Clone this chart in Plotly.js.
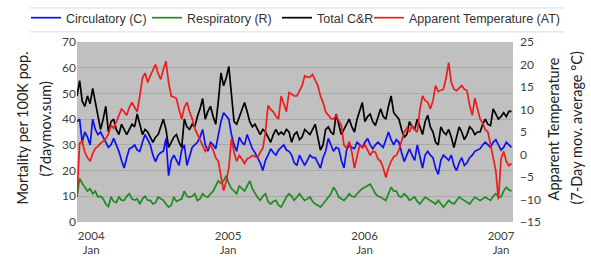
<!DOCTYPE html>
<html>
<head>
<meta charset="utf-8">
<script src="https://cdn.plot.ly/plotly-3.0.1.min.js"></script>
<style>html,body{margin:0;padding:0;background:#fff}#chart{width:591px;height:260px}</style>
</head>
<body>
<div id="chart"></div>
<script>
// Weekly samples starting 2003-11-24 (7-day step)
const startDate = '2003-11-24';
const stepDays = 7;

const circulatory = [39,40,31,35,33,30,40,36,34,35,33,31,29,30,32.5,30,27.5,24,21,25,
28.5,29,30,28,27.5,31,34,32,30,26,23.5,26,27,27.5,32.5,18,24,26,24,22,
28,30,22,26,29,30,31,33,36,30,27.5,31,30,28.5,34,39,42.5,41,40,34,
30,27.5,33,31,30,34,31,28.5,27,25,23,20,24,26,28.5,27,26,28,29,30,
28,27.5,26,23,22,26,24,22,24,26,25,25,23,21,25,27.5,32.5,30,27.5,29,
28.5,24,21,28,30,29,28.5,31,30,29,31,32.5,30,28.5,30,31,30,29,32,35,
32,30,32,31,27,23.5,26,28.5,26,24,30,26,21,26,27.5,26,25,21,18.5,24,
26,25,24,26,22,20,23,25,22,23,25,26,27.5,28,28.5,30,31,30,29,31,
32,30,28,29,31,30,29];

const respiratory = [10,17,15,13.5,12,13,11,12,9.7,10,9,7,6,9.7,8,7.5,9.7,8.5,8.4,10,
11,9,8.5,9,7,9,10,8.5,8.4,7,7.5,9.7,9,8.4,7,5.8,6.5,9.7,8,8.5,
9,12,10,9.7,10,11,8.4,9,11,10,9.7,11,12,14,16,15,16,18,15,13,
12,11,14,13,12,14,16,13,11,9.5,8.4,10,11,8,7,8,8.4,6.5,5.8,8,
9.7,11,10,8.4,9.5,11,9.5,8.4,9,9.7,8,7,6.5,5.8,7,8.4,9.5,11,13.5,12,
9.7,9,8.4,9.5,11,10,9.7,11,12,13,13.5,14,14.7,13,11,10,9.7,9,8.4,11,
13.5,12,12,10,9.7,11,10,8.4,9,9.7,8,7,8.4,9.7,9,8.4,7.5,7,8.4,7,
5.8,7,8.4,7.5,7,8.4,9.7,9,8.4,7.5,7,8.4,9.7,9,8.4,9,9.7,9,8.4,10,
11,10,9.7,12,13.5,12.5,12];

const totalCR = [49,55,47,45,49,46,52,47,42,36,40,45,35,39,40,36,34,38,36,34,
36,38,37,42,38,34,36,35,33,31,33,34,37,40,36,29,31,33,34,31,
29,40,37,36,38,37,41,44,48,40,43,45,41,38,47,58,53,56,60.5,50,
39,38,41,44,46.5,43,39,37,38,36,34,36,35,33,31,34,36,34,35,34,
36,35,31,34,35,32,33,36,35,34,36,38,33,28,30,36,37,35,34,42,
38,34,36,38,40,37,35,40,43,46.5,39,41,42,39,37.5,41,44,41,40,45,
49,42.5,41,40,36,33,34,39,37,36,40,37,34,39,41.5,37,35,31,30,37,
35,34,36,33,29,33,37,35,32,34,37,36,34,35,35,38,40,38,37.5,44,
42,40,41,42.5,41,43,43];

const apparentTemp = [-9.5,2.5,2.9,0.5,-0.7,-1.5,0.2,1.4,1.8,2.5,2.9,3.5,4.5,6.5,5.8,7.3,8.5,10.1,9.5,8.7,
10.5,11.6,10.5,9.5,13,17,18.1,16,17.5,18.9,20,18,16.7,18.9,20.7,16,13,12.8,12.4,10,
7.9,10.5,11.6,9.5,8,5.8,4.5,3.5,2,0.7,1.5,2.1,1,-0.7,-1.5,-5.1,-8,-6,-3,3.5,
0.5,-1.5,-0.2,-1,-2,-1,-0.7,-0.2,-0.5,-0.7,0.5,1.4,5,10.9,10,9.5,8.5,7.9,13,11,
9.5,13.8,13.4,13,13,14,15.3,17.5,17.2,17.2,17.8,16.5,15.3,13,11.6,9.5,8.7,8,7.9,8.7,
7.5,6.5,2.1,1.4,2.9,0.5,-3,-0.5,2.1,1.5,2.1,1,-0.2,0.7,0.5,-1,-1.5,-3,-5.1,-3,
-1.5,-0.5,-0.2,1,3,5,5.8,5,6.5,5.5,5,10,13,12,11.6,10.1,12,15.3,14,14.2,
14.5,17,20.4,16,14.5,14.2,14.8,15.3,14.5,14.2,11,8.7,12.5,10,7.9,7,5.5,5,2.1,-0.5,
-3.6,-10,-1,0.7,-1.5,-2.5,-2];

const seriesNames = ['Circulatory (C)','Respiratory (R)','Total C&R','Apparent Temperature (AT)'];
const tickDates = ['2004-01-01','2005-01-01','2006-01-01','2007-01-01'];
const tickLabels = ['2004<br>Jan','2005<br>Jan','2006<br>Jan','2007<br>Jan'];
const leftTicks = [0,10,20,30,40,50,60,70];
const rightTicks = [-15,-10,-5,0,5,10,15,20,25];

function makeDates(n){
  const out=[]; const d0=new Date(startDate+'T00:00:00Z');
  for(let i=0;i<n;i++){const d=new Date(d0.getTime()+i*stepDays*86400000);out.push(d.toISOString().slice(0,10));}
  return out;
}
const dates = makeDates(circulatory.length);

const traces = [
  {x:dates,y:circulatory,name:seriesNames[0],type:'scatter',mode:'lines',legend:'legend',line:{color:'#1010ee',width:1.7}},
  {x:dates,y:respiratory,name:seriesNames[1],type:'scatter',mode:'lines',legend:'legend2',line:{color:'#1f8a1f',width:1.7}},
  {x:dates,y:totalCR,name:seriesNames[2],type:'scatter',mode:'lines',legend:'legend3',line:{color:'#000000',width:1.7}},
  {x:dates,y:apparentTemp,name:seriesNames[3],type:'scatter',mode:'lines',yaxis:'y2',legend:'legend4',line:{color:'#ee1c1c',width:1.7}}
];

const tickFont = {family:'Lato, "Open Sans", sans-serif',size:12,color:'#404040'};
const xTickFont = {family:'Lato, "Open Sans", sans-serif',size:11.5,color:'#404040'};
const titleFont = {family:'Lato, "Open Sans", sans-serif',size:14.5,color:'#222'};
const legFont = {family:'"Liberation Sans", Arial, sans-serif',size:12.5,color:'#333'};
function leg(xp){return {orientation:'h',x:(xp-77)/436,xanchor:'left',y:1.133,yanchor:'middle',
  font:legFont,bgcolor:'rgba(0,0,0,0)',itemwidth:30};}

const layout = {
  width:591,height:260,
  margin:{l:77,r:78,t:42,b:38,autoexpand:false},
  paper_bgcolor:'#ffffff',plot_bgcolor:'#c0c0c0',
  showlegend:true,
  legend:leg(26),legend2:leg(147),legend3:leg(277),legend4:leg(369),
  xaxis:{type:'date',range:['2003-11-24','2007-02-02'],tickvals:tickDates,ticktext:tickLabels,
    showgrid:false,zeroline:false,showline:false,ticks:'',tickfont:xTickFont,ticklabelstandoff:5},
  yaxis:{range:[0,70],tickvals:leftTicks,showgrid:true,gridcolor:'#a8a8a8',gridwidth:1,
    zeroline:false,showline:false,ticks:'',tickfont:tickFont},
  yaxis2:{range:[-15,25],tickvals:rightTicks,overlaying:'y',side:'right',showgrid:false,
    zeroline:false,showline:false,ticks:'',tickfont:tickFont,ticklabelstandoff:6},
  shapes:[
    {type:'line',xref:'paper',yref:'paper',x0:-0.108,x1:1.119,y0:1.189,y1:1.189,line:{color:'#dcdcdc',width:1}},
    {type:'line',xref:'paper',yref:'paper',x0:-0.108,x1:1.119,y0:1.056,y1:1.056,line:{color:'#dcdcdc',width:1}}
  ],
  annotations:[
    {text:'Mortality per 100K pop.',xref:'paper',yref:'paper',x:-0.1261,y:0.52,textangle:-90,showarrow:false,xanchor:'center',yanchor:'middle',font:titleFont},
    {text:'(7daymov.sum)',xref:'paper',yref:'paper',x:-0.0734,y:0.52,textangle:-90,showarrow:false,xanchor:'center',yanchor:'middle',font:titleFont},
    {text:'Apparent Temperature',xref:'paper',yref:'paper',x:1.0917,y:0.52,textangle:-90,showarrow:false,xanchor:'center',yanchor:'middle',font:titleFont},
    {text:'(7-Day mov. average °C)',xref:'paper',yref:'paper',x:1.1445,y:0.52,textangle:-90,showarrow:false,xanchor:'center',yanchor:'middle',font:titleFont}
  ]
};

Plotly.newPlot('chart',traces,layout,{displayModeBar:false,staticPlot:true});
</script>
</body>
</html>
